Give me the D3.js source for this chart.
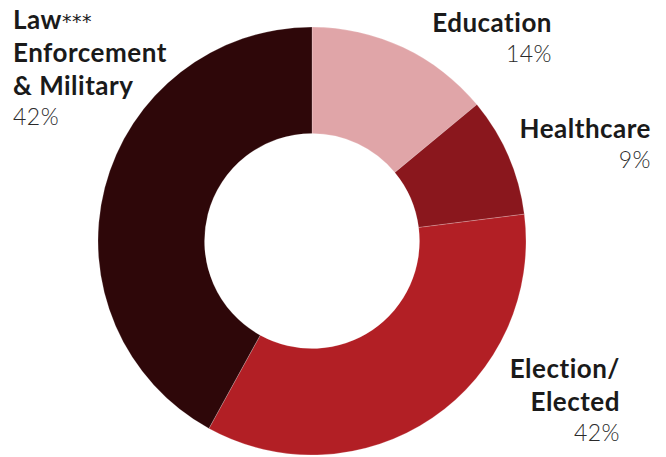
<!DOCTYPE html>
<html>
<head>
<meta charset="utf-8">
<script src="https://cdn.jsdelivr.net/npm/d3@7"></script>
<style>
  body { margin: 0; background: #fff; }
  svg { display: block; }
  text { font-family: Lato, "Open Sans", sans-serif; fill: #1a1a1a; }
</style>
</head>
<body>
<svg width="666" height="457"></svg>
<script>
// slice order, clockwise from 12 o'clock
var categories = ["Education", "Healthcare", "Election/Elected", "Law Enforcement & Military"];
var shares = [14, 9, 35, 42];
var shareLabels = ["14%", "9%", "42%", "42%"];
var colors = ["#e0a5a8", "#8a171d", "#b21f25", "#2e0709"];

// label text split into lines
var labelLines = [["Education"], ["Healthcare"], ["Election/", "Elected"], ["Law", "Enforcement", "& Military"]];

var svg = d3.select("svg");

var cx = 312, cy = 241,
    outerR = 214, innerR = 107.5;

var pie = d3.pie().sort(null).value(function(d) { return d; });
var arc = d3.arc().innerRadius(innerR).outerRadius(outerR);

var g = svg.append("g")
    .attr("transform", "translate(" + cx + "," + cy + ")");

g.selectAll("path")
    .data(pie(shares))
    .enter().append("path")
    .attr("d", arc)
    .style("fill", function(d, i) { return colors[i]; })
    .style("stroke", "#fff")
    .style("stroke-opacity", 0.35)
    .style("stroke-width", 0.6);

// label placement: x, first baseline, anchor
var labelPos = [
    { x: 552, y: 32, anchor: "end" },
    { x: 651, y: 138, anchor: "end" },
    { x: 620, y: 378, anchor: "end" },
    { x: 13, y: 29, anchor: "start" }
];
var lineH = 33;

var labels = svg.selectAll("g.label")
    .data(categories)
    .enter().append("g")
    .attr("class", "label");

labels.each(function(c, i) {
    var p = labelPos[i];
    var lab = d3.select(this);
    labelLines[i].forEach(function(line, j) {
        var t = lab.append("text")
            .attr("x", p.x)
            .attr("y", p.y + j * lineH)
            .attr("text-anchor", p.anchor)
            .style("font-size", "26px")
            .style("font-weight", 700)
            .style("letter-spacing", "0.5px")
            .text(line);
        if (i == 3 && j == 0) {
            t.append("tspan")
                .attr("dx", 0)
                .attr("dy", -1)
                .style("font-family", "'DejaVu Sans', sans-serif")
                .style("font-size", "19px")
                .style("font-weight", 400)
                .style("letter-spacing", "0.5px")
                .text("***");
        }
    });
    var n = labelLines[i].length;
    lab.append("text")
        .attr("x", p.x)
        .attr("y", p.y + (n - 1) * lineH + 30)
        .attr("text-anchor", p.anchor)
        .style("font-size", "23px")
        .style("font-weight", 300)
        .style("letter-spacing", "0.5px")
        .style("fill", "#2a2a2a")
        .text(shareLabels[i]);
});
</script>
</body>
</html>
